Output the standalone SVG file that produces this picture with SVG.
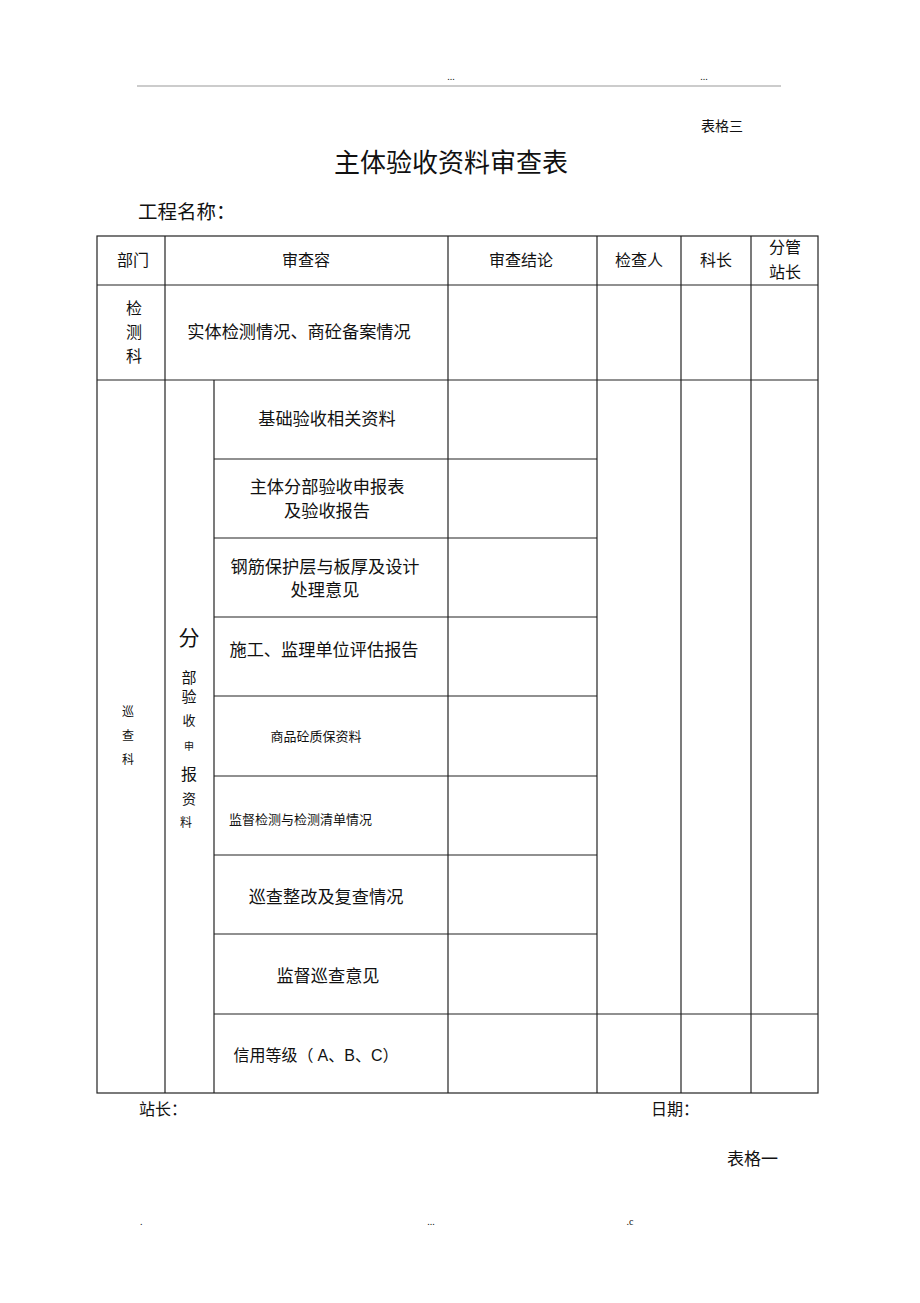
<svg xmlns="http://www.w3.org/2000/svg" width="920" height="1303" viewBox="0 0 920 1303">
<style>
text{font-family:"Liberation Serif","Noto Sans CJK SC",serif;fill:#111;}
.c{text-anchor:middle;}
.f16{font-size:16px;}
.f17{font-size:17.2px;}
.f13{font-size:13px;}
.f12{font-size:12px;}
.ln{stroke:#222;stroke-width:1.2;fill:none;}
</style>
<rect width="920" height="1303" fill="#fff"/>
<g id="header">
<text x="451" y="80" class="c" font-size="10">...</text>
<text x="704" y="80" class="c" font-size="10">...</text>
<line x1="137" y1="86" x2="781" y2="86" stroke="#999" stroke-width="1.2"/>
<text x="722" y="131" class="c" font-size="14">表格三</text>
<text x="451" y="172" class="c" font-size="26">主体验收资料审查表</text>
<text x="138" y="219" font-size="19.5">工程名称：</text>
</g>
<g id="table" class="ln">
<rect x="97" y="236" width="721" height="857"/>
<line x1="97" y1="285" x2="818" y2="285"/>
<line x1="97" y1="380" x2="818" y2="380"/>
<line x1="214" y1="1014" x2="818" y2="1014"/>
<line x1="214" y1="459" x2="597" y2="459"/>
<line x1="214" y1="538" x2="597" y2="538"/>
<line x1="214" y1="617" x2="597" y2="617"/>
<line x1="214" y1="696" x2="597" y2="696"/>
<line x1="214" y1="776" x2="597" y2="776"/>
<line x1="214" y1="855" x2="597" y2="855"/>
<line x1="214" y1="934" x2="597" y2="934"/>
<line x1="165" y1="236" x2="165" y2="1093"/>
<line x1="214" y1="380" x2="214" y2="1093"/>
<line x1="448" y1="236" x2="448" y2="1093"/>
<line x1="597" y1="236" x2="597" y2="1093"/>
<line x1="681" y1="236" x2="681" y2="1093"/>
<line x1="751" y1="236" x2="751" y2="1093"/>
</g>
<g id="head-row" class="f16">
<text x="133" y="266" class="c">部门</text>
<text x="306" y="266" class="c">审查容</text>
<text x="521" y="266" class="c">审查结论</text>
<text x="639" y="266" class="c">检查人</text>
<text x="716" y="266" class="c">科长</text>
<text x="785" y="253" class="c">分管</text>
<text x="785" y="278" class="c">站长</text>
</g>
<g id="row-jianceke">
<text x="134" y="314" class="c f16">检</text>
<text x="134" y="338" class="c f16">测</text>
<text x="134" y="362" class="c f16">科</text>
<text x="299" y="338" class="c f17">实体检测情况、商砼备案情况</text>
</g>
<g id="dept-xuncha" class="f12">
<text x="128" y="716" class="c">巡</text>
<text x="128" y="740" class="c">查</text>
<text x="128" y="764" class="c">科</text>
</g>
<g id="group-label">
<text x="189" y="645" class="c" font-size="21">分</text>
<text x="189" y="683" class="c" font-size="15">部</text>
<text x="189" y="702" class="c" font-size="15">验</text>
<text x="189" y="725" class="c" font-size="13">收</text>
<text x="189" y="750" class="c" font-size="10">申</text>
<text x="189" y="780" class="c" font-size="16">报</text>
<text x="189" y="804" class="c" font-size="14">资</text>
<text x="186" y="827" class="c" font-size="12">料</text>
</g>
<g id="items" class="f17">
<text x="327" y="425" class="c">基础验收相关资料</text>
<text x="327" y="493" class="c">主体分部验收申报表</text>
<text x="327" y="517" class="c">及验收报告</text>
<text x="325" y="573" class="c">钢筋保护层与板厚及设计</text>
<text x="325" y="596" class="c">处理意见</text>
<text x="324" y="656" class="c">施工、监理单位评估报告</text>
<text x="316" y="741" class="c f13">商品砼质保资料</text>
<text x="229" y="824" font-size="13">监督检测与检测清单情况</text>
<text x="316" y="1061" class="c" font-size="16">信用等级（ <tspan font-family="Liberation Sans, sans-serif">A</tspan>、<tspan font-family="Liberation Sans, sans-serif">B</tspan>、<tspan font-family="Liberation Sans, sans-serif">C</tspan>）</text>
<text x="326" y="903" class="c">巡查整改及复查情况</text>
<text x="328" y="982" class="c">监督巡查意见</text>
</g>
<g id="footer">
<text x="139" y="1115" class="f16">站长：</text>
<text x="651" y="1115" class="f16">日期：</text>
<text x="727" y="1165" font-size="17">表格一</text>
<text x="140" y="1225" font-size="10">.</text>
<text x="431" y="1225" class="c" font-size="10">...</text>
<text x="630" y="1225" class="c" font-size="10">.c</text>
</g>
</svg>
